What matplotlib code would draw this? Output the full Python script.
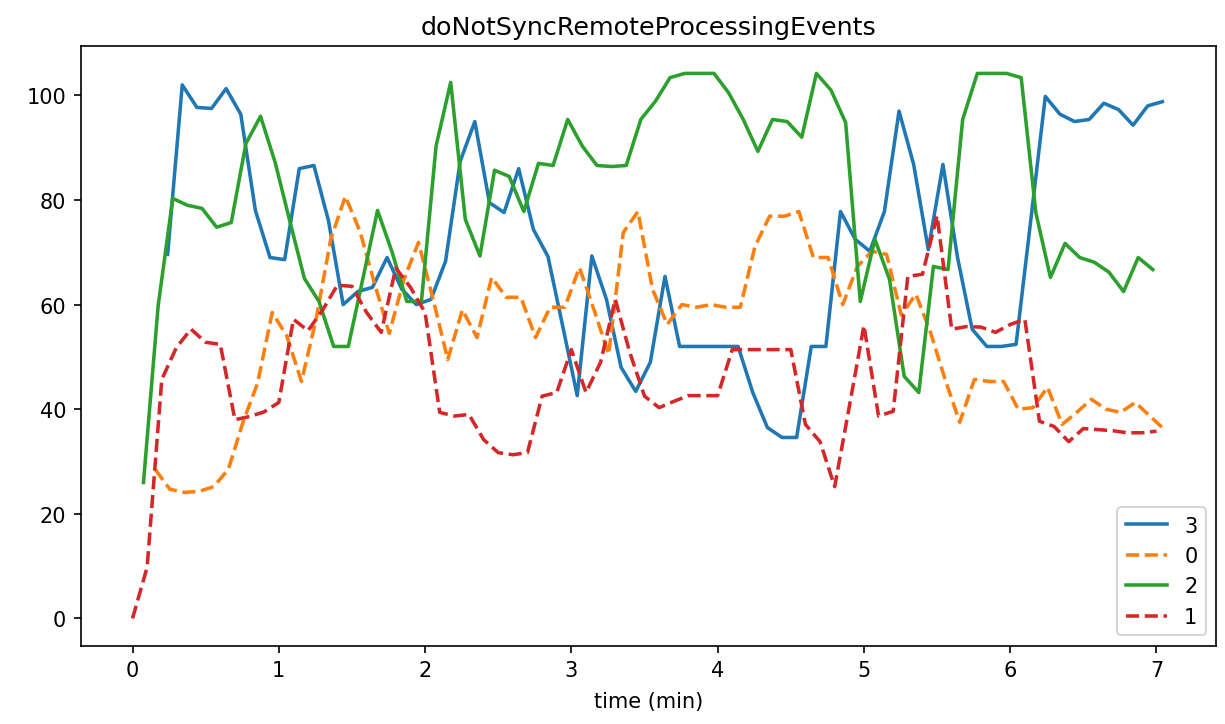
import matplotlib

matplotlib.use("Agg")
import matplotlib.pyplot as plt
import numpy as np

# sample clock: one reading every 0.1 min, each series starts at its own offset
step = 0.1

start_3 = 0.24
values_3 = [
    69.6, 102.0, 97.7, 97.5, 101.3, 96.4, 78.0, 69.0, 68.6, 86.0,
    86.6, 76.0, 60.0, 62.5, 63.3, 69.0, 63.0, 60.0, 61.0, 68.3,
    87.4, 95.0, 79.5, 77.6, 86.0, 74.4, 69.2, 56.0, 42.6, 69.3,
    61.0, 48.0, 43.4, 49.0, 65.4, 52.0, 52.0, 52.0, 52.0, 52.0,
    43.2, 36.5, 34.6, 34.6, 52.0, 52.0, 77.8, 72.5, 70.2, 77.8,
    97.0, 86.8, 70.5, 86.8, 69.0, 55.3, 52.0, 52.0, 52.4, 76.0,
    99.8, 96.4, 95.0, 95.4, 98.5, 97.3, 94.3, 98.0, 98.8,
]

start_0 = 0.155
values_0 = [
    28.5, 24.7, 24.1, 24.3, 25.2, 28.5, 37.5, 45.0, 58.5, 54.0,
    45.3, 57.2, 72.5, 80.7, 74.0, 64.0, 54.5, 64.8, 71.9, 61.0,
    49.5, 59.0, 53.7, 65.2, 61.4, 61.4, 53.7, 59.5, 59.5, 67.1,
    59.0, 50.5, 73.8, 77.8, 62.9, 56.2, 60.0, 59.5, 60.0, 59.5,
    59.5, 71.1, 76.9, 76.9, 77.8, 69.0, 69.0, 60.0, 67.3, 70.2,
    69.6, 58.0, 62.0, 54.7, 45.7, 37.5, 45.7, 45.3, 45.3, 40.0,
    40.3, 44.2, 37.1, 39.4, 41.9, 40.0, 39.4, 41.3, 38.7, 36.1,
]

start_2 = 0.075
values_2 = [
    26.0, 59.7, 80.3, 79.0, 78.4, 74.8, 75.7, 90.8, 96.0, 87.2,
    76.0, 65.0, 60.6, 52.0, 52.0, 65.0, 78.0, 70.0, 60.6, 60.6,
    90.3, 102.5, 76.3, 69.3, 85.7, 84.5, 77.8, 87.0, 86.6, 95.4,
    90.3, 86.6, 86.4, 86.6, 95.4, 98.9, 103.4, 104.2, 104.2, 104.2,
    100.5, 95.4, 89.3, 95.4, 95.0, 92.0, 104.2, 101.0, 94.8, 60.6,
    72.5, 64.8, 46.3, 43.2, 67.3, 66.7, 95.4, 104.2, 104.2, 104.2,
    103.4, 77.6, 65.2, 71.7, 69.0, 68.1, 66.2, 62.5, 69.0, 66.7,
]

start_1 = 0.0
values_1 = [
    0.0, 9.8, 45.7, 51.8, 55.3, 52.8, 52.4, 38.0, 38.6, 39.5,
    41.3, 57.2, 55.0, 59.0, 63.7, 63.5, 58.5, 54.7, 67.0, 63.3,
    58.5, 39.4, 38.7, 39.0, 34.2, 31.7, 31.3, 31.7, 42.5, 43.2,
    51.4, 43.2, 49.0, 61.0, 50.8, 42.5, 40.3, 41.5, 42.6, 42.6,
    42.6, 51.4, 51.4, 51.4, 51.4, 51.4, 37.1, 33.8, 25.2, 40.5,
    56.0, 38.7, 39.6, 65.4, 65.8, 77.0, 55.3, 55.8, 55.7, 54.7,
    56.2, 57.2, 37.7, 36.7, 33.8, 36.3, 36.1, 35.9, 35.5, 35.5,
    35.8,
]

series = [
    ("3", start_3, values_3, "tab:blue", "-"),
    ("0", start_0, values_0, "tab:orange", "--"),
    ("2", start_2, values_2, "tab:green", "-"),
    ("1", start_1, values_1, "tab:red", "--"),
]

fig, ax = plt.subplots(figsize=(8.173, 4.833), dpi=150)
fig.subplots_adjust(left=0.066, right=0.992, top=0.935, bottom=0.108)

for label, start, vals, color, ls in series:
    t = start + step * np.arange(len(vals))
    ax.plot(t, vals, color=color, linestyle=ls, linewidth=1.7, label=label)

ax.set_title("doNotSyncRemoteProcessingEvents", fontsize=12.2)
ax.set_xlabel("time (min)", labelpad=5)
ax.set_yticks([0, 20, 40, 60, 80, 100])
ax.legend(loc="lower right")

fig.savefig("out.png", dpi=150)
